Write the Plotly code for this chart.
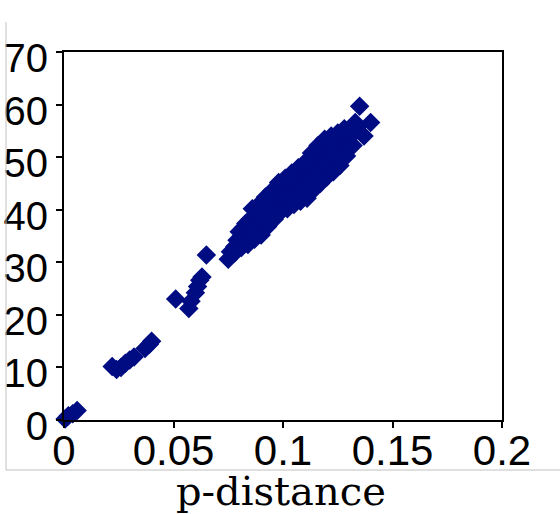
import plotly.graph_objects as go

# p-distance (x) vs. value (y)
p_distance = [
    0.0005, 0.002, 0.004, 0.006,
    0.022, 0.024, 0.026, 0.028, 0.030, 0.032,
    0.037, 0.039, 0.040,
    0.051, 0.057, 0.058, 0.060, 0.061, 0.062, 0.063,
    0.065,
    0.075, 0.076,
    0.078, 0.079, 0.078,
    0.081, 0.081, 0.082, 0.080,
    0.084, 0.084, 0.085, 0.083,
    0.087, 0.087, 0.088, 0.086,
    0.090, 0.090, 0.091, 0.089,
    0.093, 0.093, 0.094, 0.092,
    0.096, 0.096, 0.097, 0.095,
    0.099, 0.099, 0.100, 0.098,
    0.102, 0.102, 0.103, 0.101,
    0.105, 0.105, 0.106, 0.104,
    0.108, 0.108, 0.109, 0.107,
    0.111, 0.111, 0.112, 0.110,
    0.114, 0.114, 0.115, 0.113,
    0.117, 0.117, 0.118, 0.116,
    0.120, 0.120, 0.121, 0.119,
    0.123, 0.123, 0.124, 0.122,
    0.126, 0.126, 0.127, 0.125,
    0.129, 0.129, 0.130, 0.128,
    0.132, 0.132, 0.133,
    0.135, 0.134, 0.140, 0.137,
]
values = [
    0.2, 0.8, 1.2, 1.8,
    10.2, 9.6, 10.0, 10.8, 11.4, 12.0,
    13.6, 14.4, 15.0,
    23.0, 21.2, 22.6, 24.2, 25.4, 26.6, 27.2,
    31.4,
    30.6, 32.0,
    31.8, 34.2, 33.0,
    32.8, 35.0, 36.6, 35.8,
    33.4, 35.8, 38.2, 37.4,
    34.4, 36.8, 39.4, 40.2,
    35.2, 37.6, 39.8, 41.0,
    36.8, 39.0, 41.2, 42.4,
    38.2, 40.4, 42.6, 43.6,
    39.6, 41.8, 44.0, 45.2,
    40.2, 42.4, 44.6, 46.0,
    41.0, 43.2, 45.4, 47.0,
    41.6, 43.8, 46.2, 48.0,
    42.2, 44.6, 47.0, 49.0,
    43.8, 46.2, 48.6, 50.8,
    45.0, 47.4, 50.0, 52.2,
    46.2, 48.6, 51.0, 53.4,
    47.2, 49.6, 52.0, 54.0,
    48.4, 50.8, 53.0, 54.6,
    50.2, 52.4, 54.6, 55.4,
    52.2, 54.4, 56.6,
    59.7, 55.8, 56.6, 54.0,
]

x_ticks = [0, 0.05, 0.1, 0.15, 0.2]
x_tick_labels = ["0", "0.05", "0.1", "0.15", "0.2"]
y_ticks = [0, 10, 20, 30, 40, 50, 60, 70]
y_tick_labels = ["0", "10", "20", "30", "40", "50", "60", "70"]
x_title = "p-distance"

fig = go.Figure(
    go.Scatter(
        x=p_distance,
        y=values,
        mode="markers",
        marker=dict(symbol="diamond", size=15, color="#000c82", line=dict(width=0)),
        cliponaxis=False,
        showlegend=False,
    )
)

axis_common = dict(
    showline=True,
    linecolor="black",
    linewidth=2,
    mirror=True,
    ticks="outside",
    ticklen=6,
    tickwidth=1.5,
    tickcolor="black",
    showgrid=False,
    zeroline=False,
    automargin=False,
)

fig.update_layout(
    width=560,
    height=514,
    margin=dict(l=64, r=58, t=52, b=94),
    paper_bgcolor="white",
    plot_bgcolor="white",
    font=dict(family="Liberation Sans, Arial, sans-serif", color="black"),
    xaxis=dict(
        range=[0, 0.2],
        tickvals=x_ticks,
        ticktext=x_tick_labels,
        tickfont=dict(size=42, family="Liberation Sans, Arial, sans-serif", color="black"),
        ticklabelstandoff=-13,
        **axis_common,
    ),
    yaxis=dict(
        range=[0, 70],
        tickvals=y_ticks,
        ticktext=y_tick_labels,
        tickfont=dict(size=40, family="Liberation Sans, Arial, sans-serif", color="black"),
        ticklabelstandoff=0,
        ticklabelshift=6,
        **axis_common,
    ),
    annotations=[
        dict(text=x_title, xref="paper", yref="paper", x=0.496, y=-0.193,
             xanchor="center", yanchor="middle", showarrow=False,
             font=dict(size=40, family="DejaVu Serif, serif", color="black")),
    ],
    shapes=[
        dict(type="line", xref="paper", yref="paper",
             x0=-0.1324, x1=-0.1324, y0=1.0815, y1=-0.1359,
             line=dict(color="#c0c0c0", width=1)),
        dict(type="line", xref="paper", yref="paper",
             x0=-0.1324, x1=1.14, y0=-0.1359, y1=-0.1359,
             line=dict(color="#c0c0c0", width=1)),
    ],
)

fig.write_html("out.html", config={"displayModeBar": False},
               post_script="document.body.style.margin='0';")
